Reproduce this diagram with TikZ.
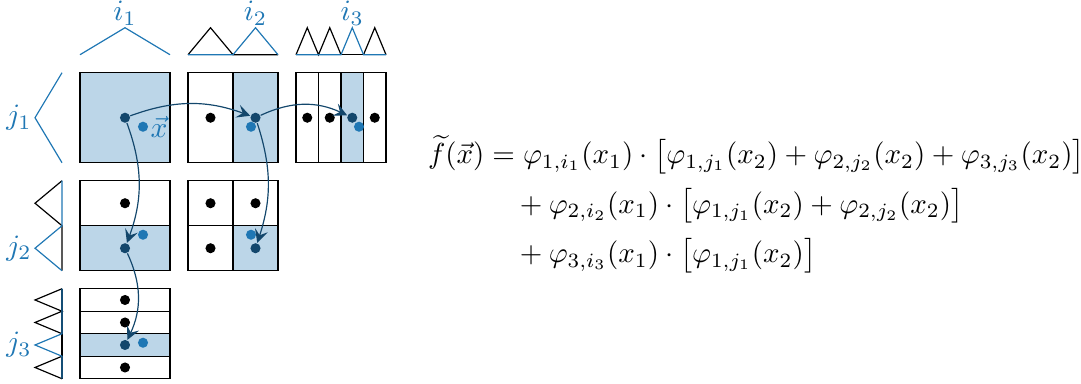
\documentclass[tikz,border=0pt]{standalone}
\usepackage{amsmath}
\usepackage{xcolor}
\usepackage{tikz}
\usetikzlibrary{arrows.meta}

\definecolor{tabblue}{HTML}{1F77B4}
\definecolor{lightblue}{HTML}{BCD6E8}
\definecolor{darkblue}{HTML}{13476C}
\setlength{\jot}{4pt}

\tikzset{
  dot/.style={circle, fill=black, inner sep=0pt, minimum size=0.12cm},
  hitdot/.style={dot, fill=darkblue},
  xdot/.style={dot, fill=tabblue},
  flow/.style={darkblue, -{Stealth[length=4.5pt, width=4.5pt, inset=1.8pt]}},
  hatlabel/.style={text=tabblue, inner sep=0pt},
}

\begin{document}
\begin{tikzpicture}[x=1.07cm, y=1.07cm]
\useasboundingbox (-0.889,-2.448) rectangle (11.122,1.808);

% hats in x_1
\draw[tabblue] (0,1.2) -- (0.5,1.5) -- (1,1.2);
\draw (1.2,1.2) -- (1.45,1.5) -- (1.7,1.2) -- (2.2,1.2);
\draw[tabblue] (1.2,1.2) -- (1.7,1.2) -- (1.95,1.5) -- (2.2,1.2);
\draw (2.4,1.2) -- (3.4,1.2);
\draw (2.4,1.2) -- (2.525,1.5) -- (2.65,1.2) -- (2.775,1.5) -- (2.9,1.2);
\draw (3.15,1.2) -- (3.275,1.5) -- (3.4,1.2);
\draw[tabblue] (2.4,1.2) -- (2.9,1.2) -- (3.025,1.5) -- (3.15,1.2) -- (3.4,1.2);
\node[hatlabel, anchor=south] (i1) at (0.5,1.52) {$i_1$};
\node[hatlabel, anchor=south] (i2) at (1.95,1.52) {$i_2$};
\node[hatlabel, anchor=south] (i3) at (3.025,1.52) {$i_3$};

% hats in x_2
\draw[tabblue] (-0.2,1) -- (-0.5,0.5) -- (-0.2,0);
\draw (-0.2,-0.2) -- (-0.5,-0.45) -- (-0.2,-0.7) -- (-0.2,-1.2);
\draw[tabblue] (-0.2,-0.2) -- (-0.2,-0.7) -- (-0.5,-0.95) -- (-0.2,-1.2);
\draw (-0.2,-1.4) -- (-0.2,-2.4);
\draw (-0.2,-1.4) -- (-0.5,-1.525) -- (-0.2,-1.65) -- (-0.5,-1.775) -- (-0.2,-1.9);
\draw (-0.2,-2.15) -- (-0.5,-2.275) -- (-0.2,-2.4);
\draw[tabblue] (-0.2,-1.4) -- (-0.2,-1.9) -- (-0.5,-2.025) -- (-0.2,-2.15) -- (-0.2,-2.4);
\node[hatlabel, anchor=east] (j1) at (-0.53,0.5) {$j_1$};
\node[hatlabel, anchor=east] (j2) at (-0.53,-0.95) {$j_2$};
\node[hatlabel, anchor=east] (j3) at (-0.53,-2.025) {$j_3$};

% subspaces
\fill[lightblue] (0,0) rectangle (1,1);
\draw (0,0) rectangle (1,1);
\fill[lightblue] (1.7,0) rectangle (2.2,1);
\draw (1.2,0) rectangle (2.2,1) (1.7,0) -- (1.7,1);
\fill[lightblue] (2.9,0) rectangle (3.15,1);
\draw (2.4,0) rectangle (3.4,1) (2.65,0) -- (2.65,1) (2.9,0) -- (2.9,1) (3.15,0) -- (3.15,1);
\fill[lightblue] (0,-1.2) rectangle (1,-0.7);
\draw (0,-1.2) rectangle (1,-0.2) (0,-0.7) -- (1,-0.7);
\fill[lightblue] (1.7,-1.2) rectangle (2.2,-0.7);
\draw (1.2,-1.2) rectangle (2.2,-0.2) (1.7,-1.2) -- (1.7,-0.2) (1.2,-0.7) -- (2.2,-0.7);
\fill[lightblue] (0,-2.15) rectangle (1,-1.9);
\draw (0,-2.4) rectangle (1,-1.4) (0,-2.15) -- (1,-2.15) (0,-1.9) -- (1,-1.9) (0,-1.65) -- (1,-1.65);

% grid points
\node[hitdot] (p11) at (0.5,0.5) {};
\node[xdot] (x11) at (0.7,0.4) {};
\node[text=tabblue, anchor=west, inner sep=0.5pt] (xlab) at (x11.east) {$\vec{x}$};

\node[dot] (b21) at (1.45,0.5) {};
\node[hitdot] (p21) at (1.95,0.5) {};
\node[xdot] (x21) at (1.9,0.4) {};

\node[dot] (b31a) at (2.525,0.5) {};
\node[dot] (b31b) at (2.775,0.5) {};
\node[hitdot] (p31) at (3.025,0.5) {};
\node[dot] (b31c) at (3.275,0.5) {};
\node[xdot] (x31) at (3.1,0.4) {};

\node[dot] (b12) at (0.5,-0.45) {};
\node[hitdot] (p12) at (0.5,-0.95) {};
\node[xdot] (x12) at (0.7,-0.8) {};

\node[dot] (b22a) at (1.45,-0.45) {};
\node[dot] (b22b) at (1.95,-0.45) {};
\node[dot] (b22c) at (1.45,-0.95) {};
\node[hitdot] (p22) at (1.95,-0.95) {};
\node[xdot] (x22) at (1.9,-0.8) {};

\node[dot] (b13a) at (0.5,-1.525) {};
\node[dot] (b13b) at (0.5,-1.775) {};
\node[hitdot] (p13) at (0.5,-2.025) {};
\node[dot] (b13c) at (0.5,-2.275) {};
\node[xdot] (x13) at (0.7,-2.0) {};

% traversal
\draw[flow] (p11) to[bend left=20] (p21);
\draw[flow] (p21) to[bend left=25] (p31);
\draw[flow] (p11) to[bend left=20] (p12);
\draw[flow] (p12) to[bend left=25] (p13);
\draw[flow] (p21) to[bend left=18] (p22);

% combination
\node[anchor=west, inner sep=0pt, scale=0.98, transform shape] (formula) at (3.86,-0.46) {$\begin{aligned}
\widetilde{f}(\vec{x}) &= \varphi_{1,i_1}(x_1)\cdot\bigl[\varphi_{1,j_1}(x_2)+\varphi_{2,j_2}(x_2)+\varphi_{3,j_3}(x_2)\bigr]\\
&\quad+\varphi_{2,i_2}(x_1)\cdot\bigl[\varphi_{1,j_1}(x_2)+\varphi_{2,j_2}(x_2)\bigr]\\
&\quad+\varphi_{3,i_3}(x_1)\cdot\bigl[\varphi_{1,j_1}(x_2)\bigr]
\end{aligned}$};
\end{tikzpicture}
\end{document}
